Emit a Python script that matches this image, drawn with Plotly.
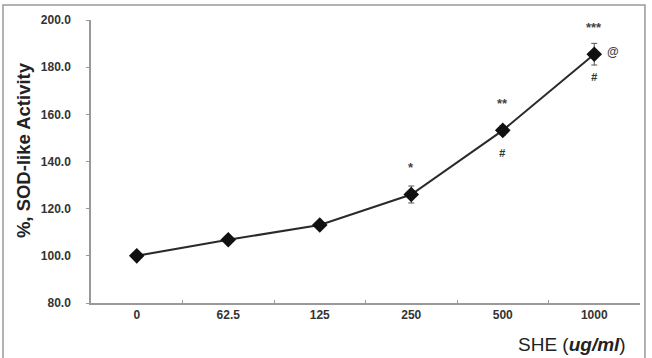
import plotly.graph_objects as go

categories = ["0", "62.5", "125", "250", "500", "1000"]
activity = [100.0, 106.8, 113.1, 126.0, 153.2, 185.5]
sem = [0.8, 1.0, 1.0, 3.6, 2.0, 4.6]
stars = ["", "", "", "*", "**", "***"]
hashes = ["", "", "", "", "#", "#"]
ats = ["", "", "", "", "", "@"]
y_ticks = [80, 100, 120, 140, 160, 180, 200]

fig = go.Figure()
fig.add_trace(go.Scatter(
    x=categories, y=activity, mode="lines+markers",
    line=dict(color="#2a2a2a", width=2),
    marker=dict(symbol="diamond", size=12, color="#111111"),
    error_y=dict(type="data", array=sem, visible=True, color="#555555", thickness=1, width=3),
    showlegend=False,
))

ann = []
for i, (v, s) in enumerate(zip(activity, stars)):
    if s:
        ann.append(dict(x=i, y=v, text="<b>" + s + "</b>", showarrow=False, yshift=27,
                        font=dict(size=13, color="#444444", family="Liberation Sans")))
for i, (v, s) in enumerate(zip(activity, hashes)):
    if s:
        ann.append(dict(x=i, y=v, text="<b><i>" + s + "</i></b>", showarrow=False, yshift=-23,
                        font=dict(size=11, color="#333333", family="Liberation Sans")))
for i, (v, s) in enumerate(zip(activity, ats)):
    if s:
        ann.append(dict(x=i, y=v, text="<b>" + s + "</b>", showarrow=False, xshift=19, yshift=2,
                        font=dict(size=12, color="#444444", family="Liberation Sans")))

ann.append(dict(xref="paper", yref="paper", x=0.976, y=-0.147, xanchor="right", yanchor="middle",
                text="SHE (<b><i>ug/ml</i></b>)", showarrow=False, borderpad=0,
                font=dict(size=19, color="#222222", family="Liberation Sans")))
ann.append(dict(xref="paper", yref="paper", x=-0.124, y=0.54, xanchor="center", yanchor="middle",
                text="<b>%, SOD-like Activity</b>", textangle=-90, showarrow=False,
                font=dict(size=18.5, color="#222222", family="Liberation Sans")))

fig.update_layout(
    width=652, height=358,
    margin=dict(l=91, r=12, t=20, b=55),
    paper_bgcolor="white", plot_bgcolor="white",
    annotations=ann,
    shapes=[dict(type="rect", xref="paper", yref="paper", x0=-0.1603, x1=1.009, y0=-0.4, y1=1.053,
                 line=dict(color="#999999", width=1.5), fillcolor="rgba(0,0,0,0)", layer="below")],
)
fig.update_xaxes(
    type="category", range=[-0.5, 5.5], showline=True, linecolor="#999999", linewidth=1.5,
    ticks="inside", ticklen=3, tickcolor="#999999", tickson="boundaries",
    showgrid=False, zeroline=False,
    tickfont=dict(size=12, color="#333333", family="Liberation Sans", weight="bold"),
)
fig.update_yaxes(
    range=[80, 200], tickvals=y_ticks, tickformat=".1f", showline=True, linecolor="#999999",
    linewidth=1.5, ticks="outside", ticklen=3, tickcolor="#999999", showgrid=False, zeroline=False,
    ticklabelstandoff=13,
    tickfont=dict(size=12, color="#333333", family="Liberation Sans", weight="bold"),
)

fig.write_html("out.html")
